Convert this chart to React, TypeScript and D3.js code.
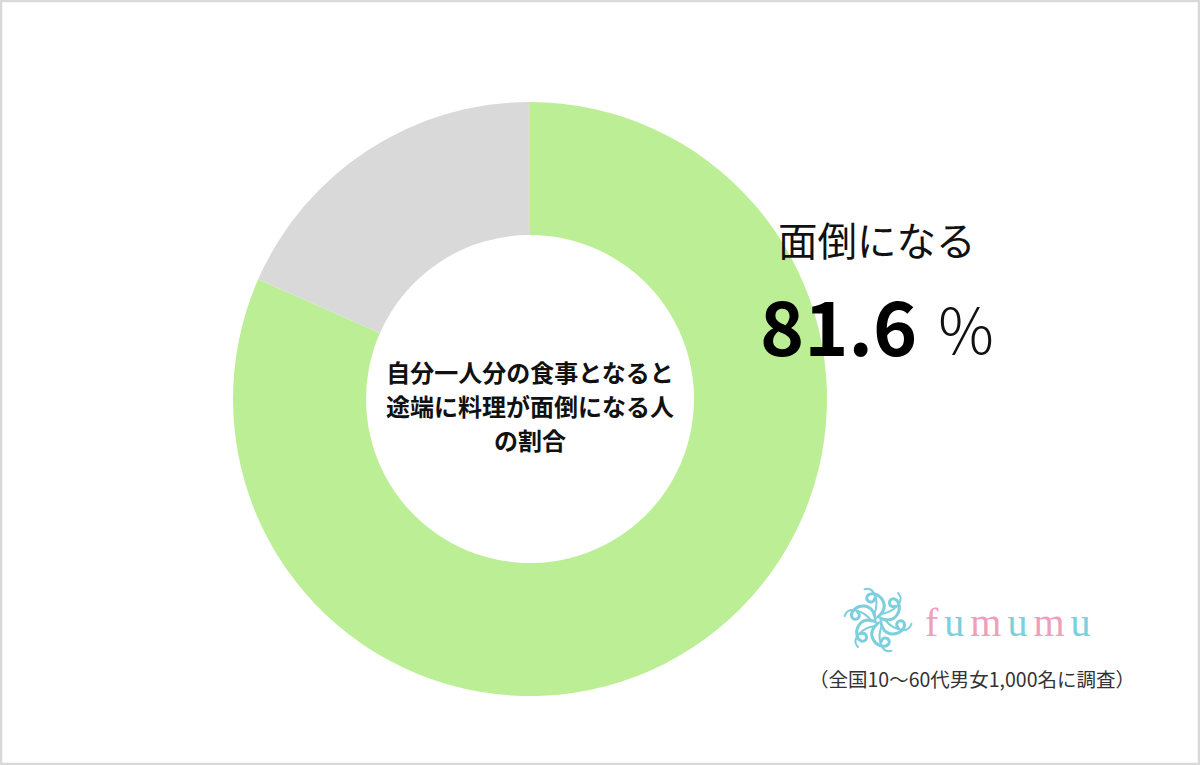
import React from "react";
import * as d3 from "d3";

// share of people answering (percent)
const categories = ["面倒になる", "その他"];
const values = [81.6, 18.4];
const colors = ["#bcef95", "#d9d9d9"];

const centerLines = ["自分一人分の食事となると", "途端に料理が面倒になる人", "の割合"];
const highlightLabel = "面倒になる";
const highlightValue = "81.6";
const note = "（全国10〜60代男女1,000名に調査）";
const brandLetters = ["f", "u", "m", "u", "m", "u"];

const W = 1200;
const H = 765;
const JP = "'Noto Sans CJK JP', 'Noto Sans', sans-serif";

function Logo({ x, y }: { x: number; y: number }) {
  // one swirl petal, repeated around the centre
  const petal = d3.line().curve(d3.curveBasis)([
    [0, -3],
    [7, -10],
    [6, -20],
    [-2, -27],
    [-11, -26],
    [-12, -19],
    [-5, -17],
    [-3, -22],
  ]);
  const loop = d3.line().curve(d3.curveBasis)([
    [3, -6],
    [12, -8],
    [20, -14],
    [24, -22],
    [20, -27],
  ]);
  const n = 6;
  return (
    <g transform={`translate(${x},${y})`} fill="none" stroke="#7ccfdc" strokeLinecap="round">
      {d3.range(n).map((i) => (
        <g key={i} transform={`rotate(${(360 / n) * i})`}>
          <path d={petal || ""} strokeWidth={3} />
          <path d={loop || ""} strokeWidth={2} />
        </g>
      ))}
    </g>
  );
}

export default function App() {
  const cx = 530;
  const cy = 399;
  const outer = 297;
  const inner = 164;

  const pie = d3.pie<number>().sort(null).value((d) => d);
  const arc = d3.arc<d3.PieArcDatum<number>>().innerRadius(inner).outerRadius(outer);
  const arcs = pie(values);

  return (
    <svg
      width={W}
      height={H}
      style={{ position: "absolute", left: 0, top: 0, background: "#fff" }}
    >
      <rect x={1} y={1} width={W - 2} height={H - 2} fill="#fff" stroke="#d9d9d9" strokeWidth={2.5} />

      <g transform={`translate(${cx},${cy})`}>
        {arcs.map((a, i) => (
          <path key={categories[i]} d={arc(a) || ""} fill={colors[i]} />
        ))}
        {centerLines.map((t, i) => (
          <text
            key={t}
            x={0}
            y={-28 + i * 34}
            textAnchor="middle"
            dominantBaseline="central"
            fontFamily={JP}
            fontWeight={700}
            fontSize={24}
            fill="#111"
          >
            {t}
          </text>
        ))}
      </g>

      <text x={778} y={256} fontFamily={JP} fontSize={39.5} fill="#111">
        {highlightLabel}
      </text>
      <text x={760} y={356} fontFamily={JP} fontWeight={700} fontSize={75} fill="#000">
        {highlightValue}
      </text>
      <text x={935} y={355} fontFamily={JP} fontWeight={300} fontSize={62} fill="#111">
        ％
      </text>

      <Logo x={878} y={620} />
      <text
        x={925}
        y={636}
        fontFamily="'Liberation Serif', 'DejaVu Serif', serif"
        fontSize={40}
        letterSpacing={6}
      >
        {brandLetters.map((c, i) => (
          <tspan key={i} fill={c === "u" ? "#7ccfdc" : "#ef9fbd"}>
            {c}
          </tspan>
        ))}
      </text>

      <text x={972} y={678} textAnchor="middle" dominantBaseline="central" fontFamily={JP} fontSize={19.5} fill="#333">
        {note}
      </text>
    </svg>
  );
}
